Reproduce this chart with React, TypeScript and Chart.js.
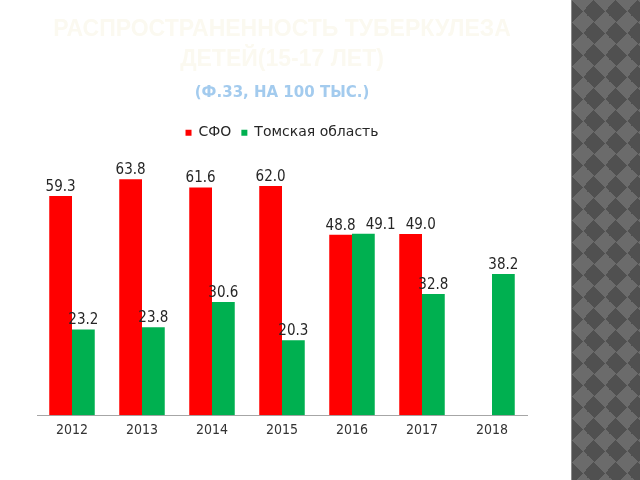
import React, { useEffect, useRef } from "react";
import { Chart, registerables } from "chart.js";

Chart.register(...registerables);

const years = ["2012", "2013", "2014", "2015", "2016", "2017", "2018"];
const sfoValues: (number | null)[] = [59.3, 63.8, 61.6, 62.0, 48.8, 49.0, null];
const tomskValues: (number | null)[] = [23.2, 23.8, 30.6, 20.3, 49.1, 32.8, 38.2];
const seriesNames = ["СФО", "Томская область"];
const titleLines = ["РАСПРОСТРАНЕННОСТЬ ТУБЕРКУЛЕЗА", "ДЕТЕЙ(15-17 ЛЕТ)"];
const subtitleText = "(Ф.33, НА 100 ТЫС.)";

// Value labels above bars; a label that would collide with one already placed
// is nudged to the right (as in the original slide).
const valueLabels = {
  id: "valueLabels",
  afterDatasetsDraw(chart: any) {
    const ctx = chart.ctx;
    ctx.save();
    ctx.font = "15px 'DejaVu Sans Condensed', 'DejaVu Sans', sans-serif";
    ctx.fillStyle = "#262626";
    ctx.textAlign = "center";
    ctx.textBaseline = "middle";
    const items: { x: number; y: number; text: string; w: number }[] = [];
    chart.data.datasets.forEach((ds: any, di: number) => {
      const meta = chart.getDatasetMeta(di);
      meta.data.forEach((el: any, i: number) => {
        const v = ds.data[i];
        if (v === null || v === undefined) return;
        const text = Number(v).toFixed(1);
        items.push({ x: el.x, y: el.y - 9, text, w: ctx.measureText(text).width });
      });
    });
    items.sort((a, b) => a.x - b.x);
    const placed: { l: number; r: number; t: number; b: number }[] = [];
    const h = 14;
    const gap = 10;
    items.forEach((it) => {
      let cx = it.x;
      for (const p of placed) {
        const l = cx - it.w / 2;
        const r = cx + it.w / 2;
        const t = it.y - h / 2;
        const b = it.y + h / 2;
        if (l < p.r && r > p.l && t < p.b && b > p.t) {
          cx = p.r + gap + it.w / 2;
        }
      }
      placed.push({ l: cx - it.w / 2, r: cx + it.w / 2, t: it.y - h / 2, b: it.y + h / 2 });
      ctx.fillText(it.text, cx, it.y);
    });
    ctx.restore();
  },
};

export default function App() {
  const ref = useRef<HTMLCanvasElement>(null);

  useEffect(() => {
    if (!ref.current) return;
    const chart = new Chart(ref.current, {
      type: "bar",
      data: {
        labels: years,
        datasets: [
          {
            label: seriesNames[0],
            data: sfoValues,
            backgroundColor: "#ff0000",
            borderWidth: 0,
          },
          {
            label: seriesNames[1],
            data: tomskValues,
            backgroundColor: "#00b050",
            borderWidth: 0,
          },
        ],
      },
      options: {
        animation: false,
        responsive: false,
        maintainAspectRatio: false,
        layout: { padding: { left: 37, right: 49, top: 0, bottom: 34 } },
        datasets: {
          bar: { categoryPercentage: 0.65, barPercentage: 1.0 },
        },
        plugins: {
          title: {
            display: true,
            text: titleLines,
            color: "#fbf9f0",
            font: { family: "'Liberation Sans', sans-serif", size: 23, weight: "bold", lineHeight: 1.3 },
            padding: { top: 15, bottom: 0 },
          },
          subtitle: {
            display: true,
            text: subtitleText,
            color: "#a3cbee",
            font: { family: "'DejaVu Sans', sans-serif", size: 15, weight: "bold", lineHeight: 1.2 },
            padding: { top: 9, bottom: 14 },
          },
          legend: {
            display: true,
            position: "top",
            labels: {
              boxWidth: 6,
              boxHeight: 6,
              padding: 10,
              color: "#262626",
              font: { family: "'DejaVu Sans', sans-serif", size: 14 },
            },
          },
          tooltip: { enabled: false },
        },
        scales: {
          x: {
            grid: { display: false, drawTicks: false },
            border: { display: true, color: "#a6a6a6", width: 1 },
            ticks: {
              color: "#333333",
              padding: 7,
              font: { family: "'DejaVu Sans Condensed', 'DejaVu Sans', sans-serif", size: 14 },
            },
          },
          y: {
            display: false,
            min: 0,
            max: 71.8,
          },
        },
      },
      plugins: [valueLabels],
    });
    return () => chart.destroy();
  }, []);

  return (
    <div
      style={{
        position: "fixed",
        left: 0,
        top: 0,
        width: 640,
        height: 480,
        background: "#ffffff",
        overflow: "hidden",
      }}
    >
      <canvas
        ref={ref}
        width={576}
        height={480}
        style={{ position: "absolute", left: 0, top: 0, width: 576, height: 480 }}
      />
      <div
        style={{
          position: "absolute",
          left: 571,
          top: 0,
          width: 69,
          height: 480,
          borderLeft: "1px solid #8a8a8a",
          background:
            "repeating-conic-gradient(from 45deg, #505050 0deg 90deg, #6b6b6b 90deg 180deg) 0 0 / 22px 22px",
        }}
      />
    </div>
  );
}
